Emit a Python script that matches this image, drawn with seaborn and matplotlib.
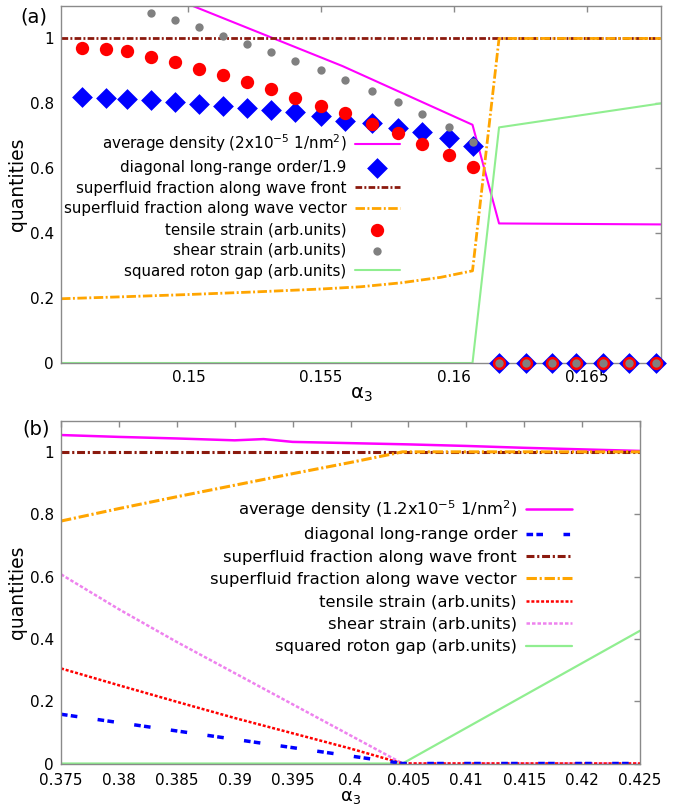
import matplotlib
matplotlib.use("Agg")
import matplotlib.pyplot as plt
import matplotlib.ticker as mticker
import numpy as np
import seaborn as sns

# ---- panel (a) data ----
alpha3_a = [0.1460, 0.1469, 0.1477, 0.1486, 0.1495, 0.1504, 0.1513, 0.1522,
            0.1531, 0.1540, 0.1550, 0.1559, 0.1569, 0.1579, 0.1588, 0.1598,
            0.1607, 0.1617, 0.1627, 0.1637, 0.1646, 0.1656, 0.1666, 0.1676]
diag_order_a = [0.819, 0.817, 0.812, 0.809, 0.804, 0.798, 0.793, 0.786,
                0.780, 0.773, 0.760, 0.745, 0.739, 0.724, 0.711, 0.692,
                0.668, 0, 0, 0, 0, 0, 0, 0]
tensile_a = [0.970, 0.968, 0.961, 0.944, 0.926, 0.907, 0.886, 0.865,
             0.843, 0.817, 0.793, 0.770, 0.737, 0.708, 0.675, 0.642,
             0.603, 0, 0, 0, 0, 0, 0, 0]
# first three shear points lie above the plotted range
shear_a = [np.nan, np.nan, np.nan, 1.079, 1.056, 1.035, 1.009, 0.984,
           0.958, 0.930, 0.903, 0.873, 0.837, 0.803, 0.766, 0.726,
           0.682, 0, 0, 0, 0, 0, 0, 0]

density_x_a = [0.1452, 0.1502, 0.1558, 0.1607, 0.1617, 0.1678]
density_a = [1.27, 1.099, 0.915, 0.734, 0.430, 0.427]
front_x_a = [0.1452, 0.1678]
front_a = [1.0, 1.0]
vector_x_a = [0.1452, 0.1475, 0.1500, 0.1525, 0.1550, 0.1565, 0.1580, 0.1595, 0.1607, 0.1617, 0.1678]
vector_a = [0.198, 0.204, 0.211, 0.219, 0.228, 0.235, 0.247, 0.264, 0.284, 1.0, 1.0]
gap_x_a = [0.1452, 0.1607, 0.1617, 0.1678]
gap_a = [0.0, 0.0, 0.726, 0.800]

# ---- panel (b) data ----
density_x_b = [0.375, 0.380, 0.385, 0.390, 0.3925, 0.395, 0.400, 0.405, 0.410, 0.415, 0.420, 0.425]
density_b = [1.054, 1.048, 1.043, 1.037, 1.041, 1.032, 1.028, 1.024, 1.019, 1.013, 1.008, 1.003]
diag_x_b = [0.375, 0.4045, 0.425]
diag_b = [0.158, 0.0, 0.0]
front_x_b = [0.375, 0.425]
front_b = [1.0, 1.0]
vector_x_b = [0.375, 0.380, 0.385, 0.390, 0.395, 0.400, 0.4045, 0.425]
vector_b = [0.778, 0.818, 0.856, 0.893, 0.930, 0.966, 1.0, 1.0]
tensile_x_b = [0.375, 0.380, 0.385, 0.390, 0.395, 0.400, 0.4045, 0.425]
tensile_b = [0.305, 0.251, 0.198, 0.146, 0.097, 0.048, 0.0, 0.0]
shear_x_b = [0.375, 0.380, 0.385, 0.390, 0.395, 0.400, 0.4045, 0.425]
shear_b = [0.607, 0.495, 0.390, 0.290, 0.190, 0.090, 0.0, 0.0]
gap_x_b = [0.375, 0.4045, 0.425]
gap_b = [0.0, 0.0, 0.426]

labels_a = ["average density (2x10$^{-5}$ 1/nm$^2$)",
            "diagonal long-range order/1.9",
            "superfluid fraction along wave front",
            "superfluid fraction along wave vector",
            "tensile strain (arb.units)",
            "shear strain (arb.units)",
            "squared roton gap (arb.units)"]
labels_b = ["average density (1.2x10$^{-5}$ 1/nm$^2$)",
            "diagonal long-range order",
            "superfluid fraction along wave front",
            "superfluid fraction along wave vector",
            "tensile strain (arb.units)",
            "shear strain (arb.units)",
            "squared roton gap (arb.units)"]

sns.set_style("white")
plt.rcParams['font.family'] = ['DejaVu Sans']
plt.rcParams['mathtext.fontset'] = 'dejavusans'
plt.rcParams['text.color'] = 'black'
plt.rcParams['axes.labelcolor'] = 'black'

MAGENTA = "#ff00ff"
BLUE = "#0000ff"
DARKRED = "#8b1a0e"
ORANGE = "#ffa500"
RED = "#ff0000"
GRAY = "#808080"
VIOLET = "#ee82ee"
GREEN = "#90ee90"
SPINE = "#8a8a8a"

fig = plt.figure(figsize=(6.9, 8.08), dpi=100)
ax_a = fig.add_axes([61 / 690, 1 - 363 / 808, 600 / 690, 357 / 808])
ax_b = fig.add_axes([61 / 690, 1 - 763.5 / 808, 579 / 690, 342.8 / 808])

fmt = mticker.FuncFormatter(lambda v, p: "%g" % round(v, 4))


def style_axes(ax, xticks, xpad, xlabel_size, xlabel_pad):
    ax.set_ylim(0, 1.1)
    ax.set_yticks([0, 0.2, 0.4, 0.6, 0.8, 1.0])
    ax.set_xticks(xticks)
    ax.xaxis.set_major_formatter(fmt)
    ax.yaxis.set_major_formatter(fmt)
    ax.tick_params(direction="in", length=4, width=1, color=SPINE,
                   labelcolor="black", top=True, right=True,
                   labelsize=11, pad=5)
    ax.tick_params(axis="x", pad=xpad)
    for s in ax.spines.values():
        s.set_color(SPINE)
        s.set_linewidth(1.0)
    ax.set_ylabel("quantities", fontsize=13.5, labelpad=2)
    ax.set_xlabel("α$_3$", fontsize=xlabel_size, labelpad=xlabel_pad)
    ax.grid(False)


def line(ax, x, y, color, lw, ls, label):
    sns.lineplot(x=x, y=y, color=color, lw=lw, linestyle=ls, ax=ax,
                 label=label, errorbar=None, sort=False)


# ---- panel (a) ----
line(ax_a, density_x_a, density_a, MAGENTA, 1.5, "-", labels_a[0])
line(ax_a, front_x_a, front_a, DARKRED, 2.0, (0, (2.4, 0.8, 0.7, 0.8)), labels_a[2])
line(ax_a, vector_x_a, vector_a, ORANGE, 2.0, (0, (3.4, 0.9, 0.7, 0.9)), labels_a[3])
line(ax_a, gap_x_a, gap_a, GREEN, 1.5, "-", labels_a[6])
sns.scatterplot(x=alpha3_a, y=diag_order_a, marker="D", s=112, color=BLUE,
                linewidth=0, ax=ax_a, label=labels_a[1], clip_on=False, zorder=4)
sns.scatterplot(x=alpha3_a, y=tensile_a, marker="o", s=92, color=RED,
                linewidth=0, ax=ax_a, label=labels_a[4], clip_on=False, zorder=5)
sns.scatterplot(x=alpha3_a, y=shear_a, marker="o", s=36, color=GRAY,
                linewidth=0, ax=ax_a, label=labels_a[5], clip_on=False, zorder=6)
ax_a.set_xlim(0.1452, 0.1678)
style_axes(ax_a, [0.15, 0.155, 0.16, 0.165], 5, 14, 0)

h, l = ax_a.get_legend_handles_labels()
order = [l.index(t) for t in labels_a]
ax_a.legend([h[i] for i in order], [l[i] for i in order], loc="center right",
            bbox_to_anchor=(0.565, 0.441), frameon=False, markerfirst=False,
            fontsize=10.9, handlelength=3.0, handletextpad=0.55,
            labelspacing=0.38, borderpad=0, borderaxespad=0)

# ---- panel (b) ----
line(ax_b, density_x_b, density_b, MAGENTA, 1.8, "-", labels_b[0])
line(ax_b, front_x_b, front_b, DARKRED, 2.2, (0, (2.6, 0.9, 0.7, 0.9)), labels_b[2])
line(ax_b, vector_x_b, vector_b, ORANGE, 2.2, (0, (3.4, 0.9, 0.7, 0.9)), labels_b[3])
line(ax_b, gap_x_b, gap_b, GREEN, 1.6, "-", labels_b[6])
line(ax_b, shear_x_b, shear_b, VIOLET, 1.8, (0, (1.4, 0.8)), labels_b[5])
line(ax_b, tensile_x_b, tensile_b, RED, 1.8, (0, (1.2, 0.75)), labels_b[4])
line(ax_b, diag_x_b, diag_b, BLUE, 2.5, (0, (1.9, 0.95, 1.9, 5.9)), labels_b[1])
ax_b.set_xlim(0.375, 0.425)
style_axes(ax_b, [0.375, 0.38, 0.385, 0.39, 0.395, 0.4, 0.405, 0.41, 0.415, 0.42, 0.425],
           7, 13, 0)

h, l = ax_b.get_legend_handles_labels()
order = [l.index(t) for t in labels_b]
ax_b.legend([h[i] for i in order], [l[i] for i in order], loc="center right",
            bbox_to_anchor=(0.8826, 0.546), frameon=False, markerfirst=False,
            fontsize=11.8, handlelength=2.8, handletextpad=0.55,
            labelspacing=0.45, borderpad=0, borderaxespad=0)

fig.text(20 / 690, 1 - 17 / 808, "(a)", fontsize=14, va="center", ha="left")
fig.text(22 / 690, 1 - 429 / 808, "(b)", fontsize=14, va="center", ha="left")

fig.savefig("out.png", dpi=100)
